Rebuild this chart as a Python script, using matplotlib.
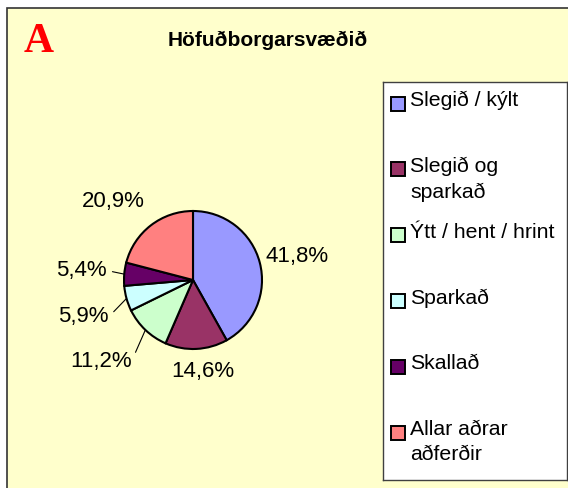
import numpy as np
import matplotlib
matplotlib.use("Agg")
import matplotlib.pyplot as plt
from matplotlib.patches import Rectangle

plt.rcParams['font.family'] = ['Liberation Sans', 'DejaVu Sans']

# data
categories = ['Slegið / kýlt', 'Slegið og\nsparkað', 'Ýtt / hent / hrint',
              'Sparkað', 'Skallað', 'Allar aðrar\naðferðir']
values = [41.8, 14.6, 11.2, 5.9, 5.4, 20.9]
colors = ['#9999FF', '#993366', '#CCFFCC', '#CCFFFF', '#660066', '#FF8080']
title = 'Höfuðborgarsvæðið'

# label placement (radius factor, angle shift in degrees, leader line?)
label_dist = [1.55, 1.34, 1.78, 1.67, 1.62, 1.62]
label_shift = [-2, 3, -5, 3, 0, 8]
leader = [False, False, True, True, True, False]

W, H = 568, 488
fig = plt.figure(figsize=(W / 100, H / 100), dpi=100)
fig.patch.set_facecolor('white')

# chart area background
fig.add_artist(Rectangle((6.5 / W, -0.1), 1.2, 1.1 - 8 / H, transform=fig.transFigure,
                         facecolor='#FFFFCC', edgecolor='#333333', lw=1.2, zorder=0))

# pie axes: centre at (193, 280) px, radius 69 px
r_px = 69
L = 2.0
side = r_px * 2 * L
cx, cy = 193, H - 280
ax = fig.add_axes([(cx - side / 2) / W, (cy - side / 2) / H, side / W, side / H])

wedges, _ = ax.pie(values, colors=colors, startangle=90, counterclock=False,
                   wedgeprops=dict(edgecolor='black', linewidth=1.5), radius=1.0)
ax.set_xlim(-L, L)
ax.set_ylim(-L, L)
ax.set_aspect('equal')
ax.axis('off')

for w, v, d, s, ld in zip(wedges, values, label_dist, label_shift, leader):
    mid = np.deg2rad((w.theta1 + w.theta2) / 2)
    ang = mid + np.deg2rad(s)
    txt = f"{v:.1f}".replace('.', ',') + '%'
    tx, ty = d * np.cos(ang), d * np.sin(ang)
    if ld:
        ax.annotate(txt, xy=(np.cos(mid), np.sin(mid)), xytext=(tx, ty),
                    ha='center', va='center', fontsize=16,
                    arrowprops=dict(arrowstyle='-', color='black', lw=0.8,
                                    relpos=(1, 0.5), shrinkA=2, shrinkB=0))
    else:
        ax.text(tx, ty, txt, ha='center', va='center', fontsize=16)

# title and panel letter
fig.text(268 / W, 1 - 40 / H, title, ha='center', va='center', fontsize=15,
         fontweight='bold')
fig.text(39 / W, 1 - 42 / H, 'A', ha='center', va='center', fontsize=30,
         fontweight='bold', color='red', family=['Liberation Serif', 'DejaVu Serif'])

# legend box drawn as its own axes
lx0, ly0, lx1, ly1 = 382.5, 82, 566.5, 479.5
lax = fig.add_axes([lx0 / W, 1 - ly1 / H, (lx1 - lx0) / W, (ly1 - ly0) / H])
lax.set_xlim(lx0, lx1)
lax.set_ylim(ly1, ly0)
lax.set_xticks([])
lax.set_yticks([])
lax.set_facecolor('white')
for sp in lax.spines.values():
    sp.set_edgecolor('#404040')
    sp.set_linewidth(1.0)

slot = 65.8
for i, (lab, col) in enumerate(zip(categories, colors)):
    top = ly0 + 9 + slot * i
    lax.add_patch(Rectangle((390.5, top + 5.5), 14, 14, facecolor=col,
                            edgecolor='black', lw=1.4))
    lax.text(410.5, top, lab, ha='left', va='top', fontsize=15.3, linespacing=1.4)

fig.savefig('out.png', dpi=100, facecolor=fig.get_facecolor())
